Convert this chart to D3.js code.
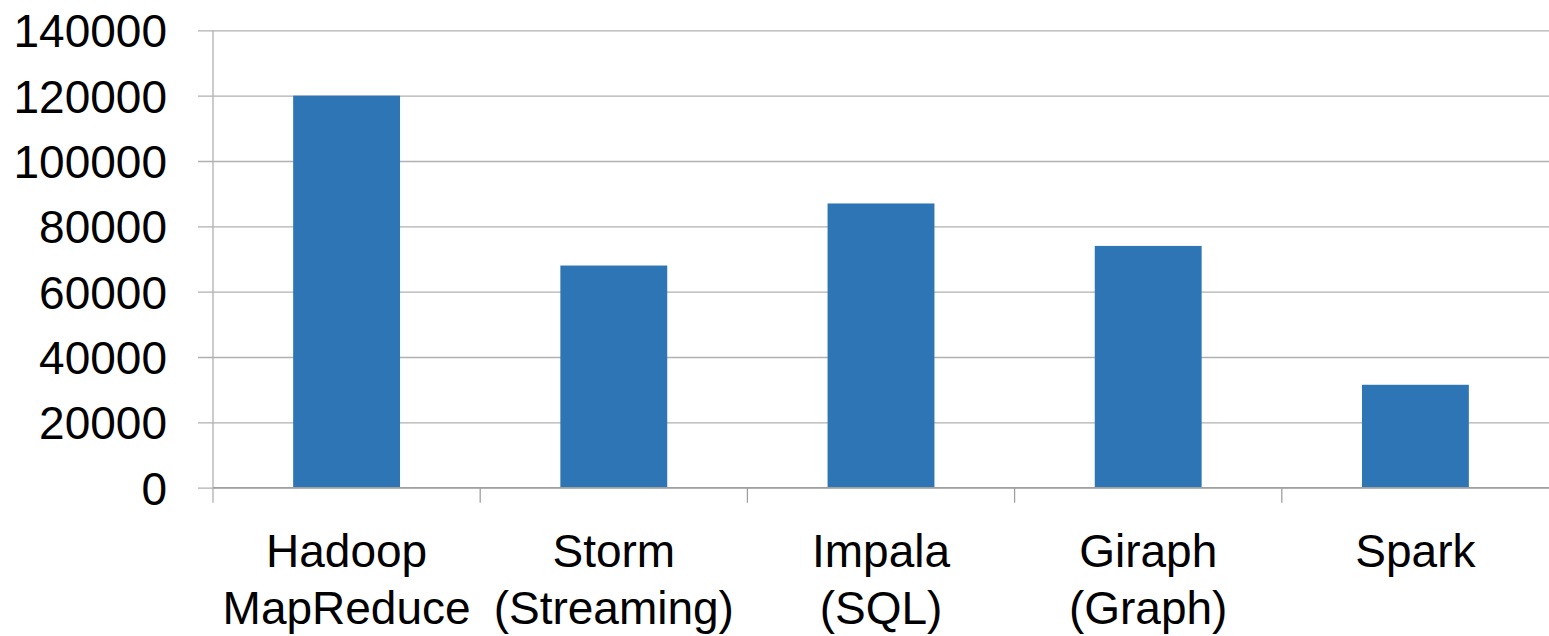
<!DOCTYPE html>
<html>
<head>
<meta charset="utf-8">
<script src="https://cdn.jsdelivr.net/npm/d3@7"></script>
<style>
  html, body { margin: 0; padding: 0; background: #fff; }
  svg { display: block; }
  text { font-family: "Liberation Sans", Arial, Helvetica, sans-serif; fill: #000; }
</style>
</head>
<body>
<script>
// Data
const categories = [["Hadoop", "MapReduce"], ["Storm", "(Streaming)"], ["Impala", "(SQL)"], ["Giraph", "(Graph)"], ["Spark"]];
const values = [120000, 68000, 87000, 74000, 31500];
const yTicks = [0, 20000, 40000, 60000, 80000, 100000, 120000, 140000];

const W = 1549, H = 636;
const mLeft = 213, mRight = 1549, mTop = 30.3, mBottom = 487.7;

const svg = d3.select("body").append("svg").attr("width", W).attr("height", H);

const keys = categories.map(c => c.join(" "));
const x = d3.scaleBand().domain(keys).range([mLeft, mRight]).paddingInner(0.6).paddingOuter(0.3);
const xb = d3.scaleBand().domain(keys).range([mLeft, mRight]).padding(0);
const y = d3.scaleLinear().domain([0, 140000]).range([mBottom, mTop]);

// Gridlines + y axis
const yAxis = d3.axisLeft(y).tickValues(yTicks).tickFormat(d3.format("d")).tickSize(-(mRight - mLeft)).tickSizeOuter(0).tickPadding(31);
const gy = svg.append("g").attr("transform", `translate(${mLeft},0)`).call(yAxis);
gy.select(".domain").remove();
gy.selectAll(".tick line").attr("stroke", "#b0b0b0").attr("stroke-width", 1.3).attr("x1", -15);
gy.selectAll(".tick text").attr("font-size", 46).attr("dy", "0.36em").attr("x", -46)
  .style("font-family", '"Liberation Sans", Arial, sans-serif').attr("fill", "#000");

// Y axis vertical line
svg.append("line").attr("x1", mLeft).attr("x2", mLeft).attr("y1", mTop).attr("y2", mBottom + 15)
  .attr("stroke", "#b0b0b0").attr("stroke-width", 1.3);

// Bars
svg.append("g").selectAll("rect").data(values).join("rect")
  .attr("x", (d, i) => x(keys[i]))
  .attr("width", x.bandwidth())
  .attr("y", d => y(d))
  .attr("height", d => y(0) - y(d))
  .attr("fill", "#2E75B6");

// X axis line and ticks at band boundaries
svg.append("line").attr("x1", mLeft).attr("x2", mRight).attr("y1", y(0)).attr("y2", y(0))
  .attr("stroke", "#a0a0a0").attr("stroke-width", 1.4);
const boundaries = keys.map(k => xb(k)).concat([mRight]);
svg.append("g").selectAll("line").data(boundaries.slice(1, -1)).join("line")
  .attr("x1", d => d).attr("x2", d => d).attr("y1", y(0)).attr("y2", y(0) + 15)
  .attr("stroke", "#a0a0a0").attr("stroke-width", 1.3);

// Category labels
const lbl = svg.append("g").selectAll("text").data(categories).join("text")
  .attr("text-anchor", "middle")
  .attr("font-size", 46)
  .attr("x", (d, i) => xb(keys[i]) + xb.bandwidth() / 2)
  .attr("y", 567);
lbl.selectAll("tspan").data(d => d).join("tspan")
  .attr("x", function() { return this.parentNode.getAttribute("x"); })
  .attr("dy", (d, i) => i === 0 ? 0 : 57)
  .text(d => d);
</script>
</body>
</html>
